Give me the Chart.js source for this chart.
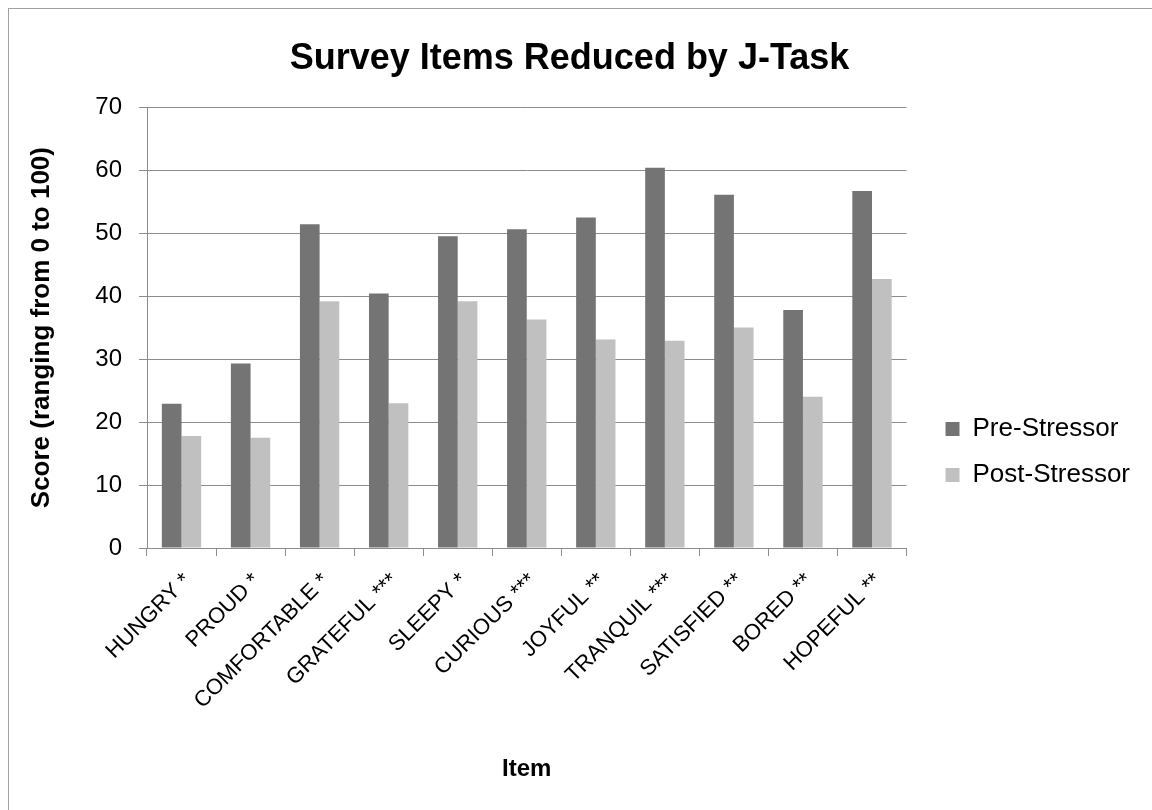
<!DOCTYPE html>
<html>
<head>
<meta charset="utf-8">
<title>Survey Items Reduced by J-Task</title>
<script src="https://cdn.jsdelivr.net/npm/chart.js@4.4.1/dist/chart.umd.min.js"></script>
<style>
  html, body { margin: 0; padding: 0; background: #fff; overflow: hidden; }
  #wrap { position: relative; width: 1152px; height: 810px; }
  /* grey frame of the original chart object (top and left edge visible) */
  #frame { position: absolute; left: 8px; top: 8px; width: 1200px; height: 900px;
           border-left: 1px solid #a0a0a0; border-top: 1px solid #a0a0a0; }
  canvas { position: absolute; left: 0; top: 0; }
</style>
</head>
<body>
<div id="wrap">
  <div id="frame"></div>
  <canvas id="surveyChart" width="1152" height="810"></canvas>
</div>
<script>
// categories (asterisks = significance level)
const items = ['HUNGRY *', 'PROUD *', 'COMFORTABLE *', 'GRATEFUL ***', 'SLEEPY *',
  'CURIOUS ***', 'JOYFUL **', 'TRANQUIL ***', 'SATISFIED **', 'BORED **', 'HOPEFUL **'];

// scores
const preStressor  = [22.9, 29.3, 51.4, 40.4, 49.5, 50.6, 52.5, 60.4, 56.1, 37.8, 56.7];
const postStressor = [17.8, 17.5, 39.2, 23.0, 39.2, 36.3, 33.1, 32.9, 35.0, 24.0, 42.7];

const yTicks = [0, 10, 20, 30, 40, 50, 60, 70];

const gridGrey = '#8c8c8c';

Chart.defaults.font.family = "'Liberation Sans', Arial, sans-serif";
Chart.defaults.color = '#000';

// nudge the legend to where Excel put it (to the right of the plot, mid height)
const legendNudge = {
  id: 'legendNudge',
  afterLayout(chart) {
    const lg = chart.legend;
    if (!lg) return;
    const dx = 19, dy = 396 - lg.top;
    lg.left += dx; lg.right += dx;
    lg.top += dy; lg.bottom += dy;
  }
};

const ctx = document.getElementById('surveyChart').getContext('2d');
new Chart(ctx, {
  type: 'bar',
  data: {
    labels: items,
    datasets: [
      { label: 'Pre-Stressor', data: preStressor, backgroundColor: '#747474' },
      { label: 'Post-Stressor', data: postStressor, backgroundColor: '#c0c0c0' }
    ]
  },
  options: {
    responsive: false,
    animation: false,
    categoryPercentage: 0.57,
    barPercentage: 1.0,
    layout: { padding: { left: 18, right: 31, top: 10, bottom: 0 } },
    plugins: {
      title: {
        display: true,
        text: 'Survey Items Reduced by J-Task',
        font: { size: 36, weight: 'bold' },
        color: '#000',
        padding: { top: 27, bottom: 27 }
      },
      legend: {
        position: 'right',
        align: 'start',
        fullSize: false,
        labels: {
          boxWidth: 14,
          boxHeight: 14,
          padding: 20,
          font: { size: 26 },
          color: '#000'
        }
      },
      tooltip: { enabled: false }
    },
    scales: {
      x: {
        afterFit(scale) { scale.height = 262; },
        grid: { drawOnChartArea: false, drawTicks: true, tickLength: 8, color: gridGrey },
        border: { display: true, color: gridGrey },
        ticks: { maxRotation: 45, minRotation: 45, font: { size: 22 }, padding: 12, labelOffset: 6, autoSkip: false },
        title: {
          display: true,
          text: 'Item',
          font: { size: 24, weight: 'bold' },
          padding: { top: 0, bottom: 26 }
        }
      },
      y: {
        min: 0,
        max: 70,
        afterFit(scale) { scale.width = 129; },
        afterBuildTicks(scale) { scale.ticks = yTicks.map(v => ({ value: v })); },
        grid: { color: gridGrey, tickLength: 8, drawTicks: true },
        border: { display: true, color: gridGrey },
        ticks: { font: { size: 24 }, padding: 17 },
        title: {
          display: true,
          text: 'Score (ranging from 0 to 100)',
          font: { size: 26, weight: 'bold' },
          padding: { top: 8, bottom: 0 }
        }
      }
    }
  },
  plugins: [legendNudge]
});
</script>
</body>
</html>
